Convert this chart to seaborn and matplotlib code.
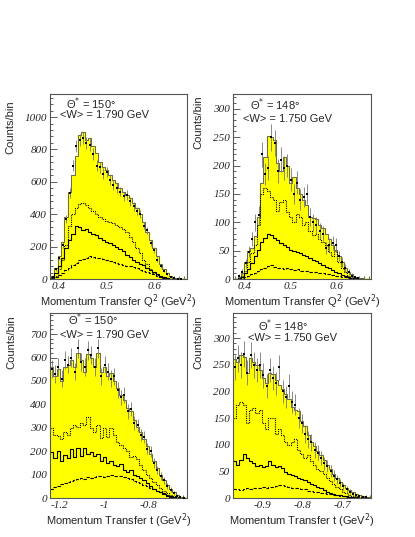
import numpy as np
import pandas as pd
import seaborn as sns
import matplotlib
matplotlib.use("Agg")
import matplotlib.pyplot as plt
from matplotlib.ticker import MultipleLocator, FuncFormatter

# ---- panel 1: Q^2, theta* = 150 deg ----
q1_lo, q1_w = 0.385, 0.007
q1_total = [20, 70, 140, 230, 380, 540, 640, 760, 890, 910, 860, 870, 820, 780, 720, 690, 670, 640, 610, 590,
            560, 540, 520, 500, 470, 440, 400, 350, 290, 240, 190, 140, 90, 60, 35, 18, 8, 4, 2, 1]
q1_dot = [5, 20, 60, 120, 210, 330, 400, 440, 465, 470, 455, 440, 420, 400, 385, 370, 360, 350, 345, 335,
          320, 310, 290, 260, 230, 190, 160, 120, 90, 60, 40, 25, 15, 8, 4, 2, 1, 0, 0, 0]
q1_solid = [10, 40, 80, 130, 190, 240, 280, 330, 320, 300, 310, 290, 275, 270, 255, 240, 230, 220, 210, 200,
            185, 170, 150, 135, 120, 105, 95, 85, 70, 55, 42, 30, 20, 12, 6, 3, 1, 0, 0, 0]
q1_dash = [5, 12, 25, 40, 55, 70, 85, 100, 115, 125, 132, 140, 138, 132, 128, 122, 118, 112, 105, 100,
           95, 88, 82, 78, 72, 65, 58, 50, 42, 35, 28, 20, 14, 8, 5, 2, 1, 0, 0, 0]
q1_data = [15, 60, 130, 210, 370, 530, 700, 820, 860, 870, 840, 830, 770, 700, 690, 650, 660, 610, 580, 560,
           540, 510, 520, 480, 450, 420, 400, 330, 300, 220, 180, 120, 80, 50, 30, 15, 6, 3, 1, 0]
q1_err = [6, 10, 15, 19, 25, 30, 34, 37, 38, 38, 38, 38, 36, 34, 34, 33, 33, 32, 31, 31,
          30, 29, 30, 28, 28, 27, 26, 24, 22, 19, 17, 14, 12, 9, 7, 5, 3, 2, 1, 0]

# ---- panel 2: Q^2, theta* = 148 deg ----
q2_lo, q2_w = 0.378, 0.007
q2_total = [0, 3, 10, 30, 50, 55, 75, 110, 170, 215, 252, 250, 245, 205, 190, 215, 200, 170, 180, 160, 150,
            140, 130, 110, 108, 105, 95, 90, 80, 70, 60, 52, 40, 30, 20, 12, 8, 4, 2, 1, 0, 0]
q2_dot = [0, 0, 5, 15, 30, 45, 60, 95, 150, 160, 155, 145, 140, 120, 135, 140, 118, 110, 100, 115, 110,
          95, 100, 85, 78, 80, 70, 65, 60, 48, 40, 50, 30, 20, 12, 6, 3, 1, 0, 0, 0, 0]
q2_solid = [0, 1, 4, 10, 18, 28, 40, 52, 65, 73, 80, 78, 72, 68, 64, 60, 57, 52, 50, 48, 45,
            42, 40, 37, 34, 31, 28, 25, 22, 19, 16, 13, 10, 7, 5, 3, 2, 1, 0, 0, 0, 0]
q2_dash = [0, 0, 1, 3, 5, 8, 11, 14, 17, 20, 23, 25, 22, 20, 19, 18, 19, 17, 16, 17, 15,
           14, 15, 13, 12, 12, 11, 10, 9, 8, 7, 6, 5, 4, 3, 2, 1, 1, 0, 0, 0, 0]
q2_data = [0, 5, 12, 28, 48, 70, 100, 112, 220, 185, 195, 250, 240, 190, 210, 195, 200, 175, 150, 170, 140,
           145, 150, 110, 100, 95, 85, 80, 55, 60, 63, 60, 40, 30, 20, 12, 6, 3, 1, 0, 0, 0]
q2_err = [0, 3, 5, 8, 10, 12, 15, 16, 22, 20, 21, 24, 23, 21, 22, 21, 21, 20, 18, 20, 18,
          18, 18, 16, 15, 15, 14, 13, 11, 12, 12, 12, 9, 8, 7, 5, 4, 2, 1, 0, 0, 0]

# ---- panel 3: t, theta* = 150 deg ----
t1_lo, t1_w = -1.245, 0.015
t1_total = [560, 520, 550, 500, 560, 570, 590, 560, 620, 590, 540, 615, 600, 560, 620, 540, 560, 520, 535, 500, 470,
            440, 420, 385, 370, 335, 305, 280, 250, 220, 190, 160, 130, 100, 75, 55, 38, 24, 12, 6, 2, 1]
t1_dot = [300, 270, 265, 250, 280, 270, 300, 310, 305, 320, 310, 345, 300, 280, 310, 255, 300, 260, 300, 270, 240,
          225, 215, 200, 175, 180, 165, 140, 120, 100, 85, 70, 55, 42, 30, 20, 12, 7, 3, 1, 0, 0]
t1_solid = [195, 170, 200, 160, 185, 170, 210, 175, 215, 180, 215, 190, 195, 180, 190, 160, 175, 150, 160, 140, 135,
            145, 120, 110, 120, 100, 95, 85, 75, 62, 50, 40, 32, 24, 16, 10, 6, 3, 1, 0, 0, 0]
t1_dash = [40, 48, 52, 58, 62, 68, 72, 78, 80, 84, 82, 88, 86, 90, 96, 92, 88, 92, 98, 96, 92,
           94, 88, 84, 80, 74, 68, 62, 56, 50, 44, 38, 32, 26, 20, 15, 10, 6, 3, 1, 0, 0]
t1_data = [550, 530, 560, 510, 590, 570, 600, 540, 640, 580, 560, 630, 610, 560, 640, 520, 570, 540, 510, 520, 460,
           430, 440, 370, 380, 320, 310, 270, 260, 210, 200, 150, 120, 95, 75, 50, 35, 20, 10, 5, 2, 0]
t1_err = [38, 37, 38, 36, 39, 38, 39, 37, 40, 38, 38, 40, 39, 37, 40, 36, 38, 37, 36, 36, 34,
          33, 33, 31, 31, 29, 28, 26, 26, 23, 23, 20, 18, 16, 14, 12, 10, 8, 5, 4, 2, 0]

# ---- panel 4: t, theta* = 148 deg ----
t2_lo, t2_w = -0.9725, 0.008
t2_total = [260, 255, 268, 265, 235, 262, 255, 250, 240, 225, 215, 235, 232, 222, 212, 205, 195, 185, 170, 165, 163,
            145, 135, 118, 106, 98, 88, 80, 72, 62, 55, 45, 38, 30, 24, 19, 15, 11, 8, 5, 3, 2, 1]
t2_dot = [150, 175, 180, 175, 140, 165, 168, 160, 165, 140, 130, 150, 150, 120, 130, 118, 105, 100, 105, 110, 90,
          82, 75, 80, 70, 62, 55, 50, 45, 38, 32, 26, 20, 16, 12, 9, 6, 4, 3, 2, 1, 0, 0]
t2_solid = [70, 62, 72, 82, 75, 70, 66, 60, 62, 58, 60, 70, 62, 58, 60, 56, 48, 45, 44, 42, 38,
            36, 33, 30, 27, 24, 21, 18, 15, 12, 10, 8, 6, 5, 4, 3, 2, 1, 1, 0, 0, 0, 0]
t2_dash = [16, 17, 15, 16, 18, 17, 18, 19, 18, 20, 19, 20, 21, 22, 24, 25, 23, 20, 19, 18, 18,
           17, 16, 14, 13, 12, 11, 10, 9, 8, 7, 6, 5, 4, 3, 2, 2, 1, 1, 0, 0, 0, 0]
t2_data = [245, 262, 250, 270, 235, 268, 250, 240, 250, 230, 210, 240, 225, 215, 245, 200, 190, 210, 180, 175, 150,
           140, 120, 110, 105, 90, 85, 75, 65, 60, 50, 42, 35, 28, 22, 16, 12, 8, 5, 3, 2, 1, 0]
t2_err = [24, 25, 24, 25, 23, 25, 24, 23, 24, 23, 22, 23, 23, 22, 24, 21, 21, 22, 20, 20, 19,
          18, 17, 16, 16, 15, 14, 13, 12, 12, 11, 10, 9, 8, 7, 6, 5, 4, 3, 2, 2, 1, 0]

theta_labels = ["150", "148", "150", "148"]
w_labels = ["1.790", "1.750", "1.790", "1.750"]
xlabels = ["Momentum Transfer Q$^2$ (GeV$^2$)"] * 2 + ["Momentum Transfer t (GeV$^2$)"] * 2

panels = [
    dict(lo=q1_lo, w=q1_w, total=q1_total, dot=q1_dot, solid=q1_solid, dash=q1_dash, data=q1_data, err=q1_err,
         xlim=(0.383, 0.667), ylim=(0, 1142), xmaj=0.1, xmin=0.01, ymaj=200, ymin=40,
         txt=(0.117, 0.95, 0.073, 0.886), ylab=(-0.255, 0.968)),
    dict(lo=q2_lo, w=q2_w, total=q2_total, dot=q2_dot, solid=q2_solid, dash=q2_dash, data=q2_data, err=q2_err,
         xlim=(0.375, 0.675), ylim=(0, 326), xmaj=0.1, xmin=0.01, ymaj=50, ymin=10,
         txt=(0.123, 0.94, 0.072, 0.865), ylab=(-0.217, 0.995)),
    dict(lo=t1_lo, w=t1_w, total=t1_total, dot=t1_dot, solid=t1_solid, dash=t1_dash, data=t1_data, err=t1_err,
         xlim=(-1.245, -0.623), ylim=(0, 790), xmaj=0.2, xmin=0.02, ymaj=100, ymin=20,
         txt=(0.13, 0.962, 0.073, 0.88), ylab=(-0.248, 0.985)),
    dict(lo=t2_lo, w=t2_w, total=t2_total, dot=t2_dot, solid=t2_solid, dash=t2_dash, data=t2_data, err=t2_err,
         xlim=(-0.9725, -0.6275), ylim=(0, 347), xmaj=0.1, xmin=0.01, ymaj=50, ymin=10,
         txt=(0.18, 0.93, 0.11, 0.865), ylab=(-0.217, 0.985)),
]

sns.set_style("white")
plt.rcParams['font.family'] = ['Liberation Sans', 'DejaVu Sans']

fig = plt.figure(figsize=(4.15, 5.37), dpi=100)
rects = [
    [0.1205, 0.4804, 0.330, 0.3445],
    [0.5614, 0.4804, 0.3325, 0.3445],
    [0.1205, 0.0726, 0.330, 0.3445],
    [0.5614, 0.0726, 0.3325, 0.3445],
]

fmt = FuncFormatter(lambda v, p: ("%g" % round(v, 3)))

for i, (p, r) in enumerate(zip(panels, rects)):
    ax = fig.add_axes(r)
    n = len(p["total"])
    edges = p["lo"] + p["w"] * np.arange(n + 1)
    centers = edges[:-1] + p["w"] / 2
    df = pd.DataFrame({"x": centers, "total": p["total"], "dot": p["dot"],
                       "solid": p["solid"], "dash": p["dash"]})

    sns.histplot(data=df, x="x", weights="total", bins=list(edges), element="step", fill=True,
                 color="#ffff00", alpha=1.0, ax=ax)
    sns.histplot(data=df, x="x", weights="total", bins=list(edges), element="step", fill=False,
                 color="#666666", linewidth=0.7, ax=ax)
    sns.histplot(data=df, x="x", weights="dot", bins=list(edges), element="step", fill=False,
                 color="black", linestyle=(0, (1, 1)), linewidth=0.8, ax=ax)
    sns.histplot(data=df, x="x", weights="solid", bins=list(edges), element="step", fill=False,
                 color="black", linewidth=0.8, ax=ax)
    sns.histplot(data=df, x="x", weights="dash", bins=list(edges), element="step", fill=False,
                 color="black", linestyle=(0, (3, 1.5)), linewidth=0.8, ax=ax)

    data = np.array(p["data"])
    err = np.array(p["err"])
    keep = data > 0
    ax.errorbar(centers[keep], data[keep], yerr=err[keep], fmt="none", ecolor="#777777",
                elinewidth=0.6, capsize=0)
    sns.scatterplot(x=centers[keep], y=data[keep], color="black", s=3, marker="s",
                    linewidth=0, ax=ax, zorder=5)

    ax.set_xlim(*p["xlim"])
    ax.set_ylim(*p["ylim"])
    ax.xaxis.set_major_locator(MultipleLocator(p["xmaj"]))
    ax.xaxis.set_minor_locator(MultipleLocator(p["xmin"]))
    ax.yaxis.set_major_locator(MultipleLocator(p["ymaj"]))
    ax.yaxis.set_minor_locator(MultipleLocator(p["ymin"]))
    ax.xaxis.set_major_formatter(fmt)
    ax.yaxis.set_major_formatter(fmt)
    ax.tick_params(which="both", direction="in", bottom=True, left=True, top=False, right=False,
                   color="#444444", width=0.6)
    ax.tick_params(which="major", length=5, pad=2)
    ax.tick_params(which="minor", length=2.5)
    for lab in ax.get_xticklabels() + ax.get_yticklabels():
        lab.set_family("Liberation Serif")
        lab.set_style("italic")
        lab.set_fontsize(8)
    for s in ax.spines.values():
        s.set_color("#555555")
        s.set_linewidth(0.8)

    ax.set_xlabel(xlabels[i], fontsize=8, labelpad=1)
    ax.set_ylabel("Counts/bin", fontsize=8, loc="top")
    ax.yaxis.set_label_coords(*p["ylab"])

    tx, ty, wx, wy = p["txt"]
    ax.text(tx, ty, "\u0398$^{*}$ = %s\u00b0" % theta_labels[i], transform=ax.transAxes,
            fontsize=8, va="center", ha="left")
    ax.text(wx, wy, "<W> = %s GeV" % w_labels[i], transform=ax.transAxes,
            fontsize=8, va="center", ha="left")

fig.savefig("out.png", dpi=100)
